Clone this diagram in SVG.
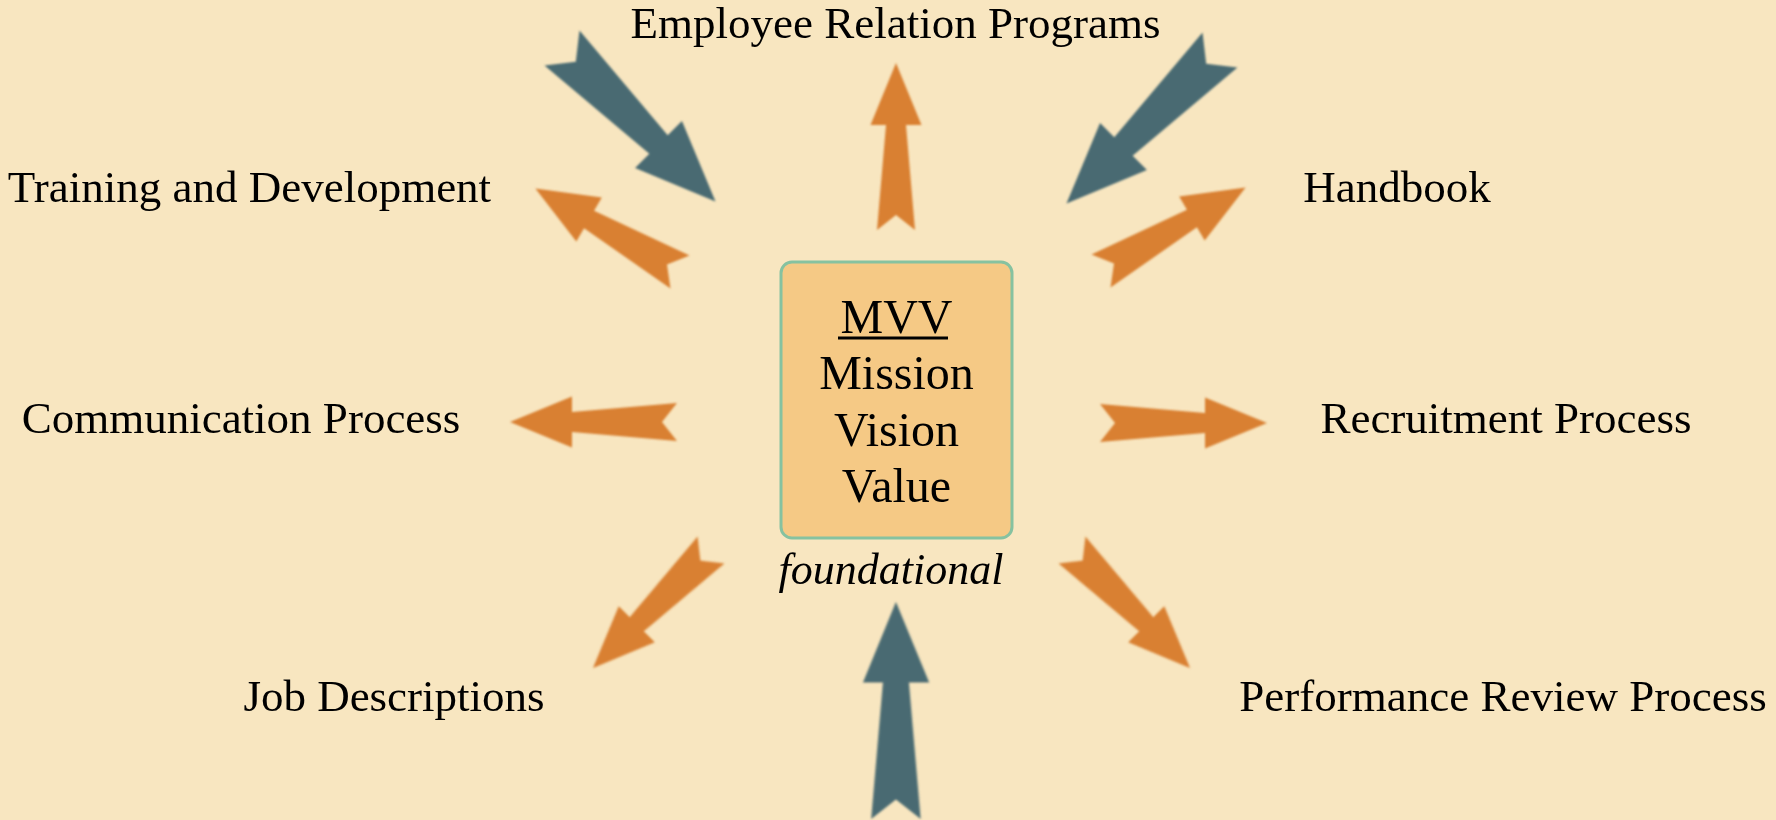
<svg xmlns="http://www.w3.org/2000/svg" xmlns:xlink="http://www.w3.org/1999/xlink" width="1776" height="820" viewBox="0 0 1776 820">
  <style>
    .label { font-family: "Liberation Serif", "Times New Roman", serif; font-size: 45px; fill: #000; text-anchor: middle; }
    .core { font-family: "Liberation Serif", "Times New Roman", serif; font-size: 48px; fill: #000; text-anchor: middle; }
    .note { font-family: "Liberation Serif", "Times New Roman", serif; font-size: 44px; font-style: italic; fill: #000; text-anchor: middle; }
    .out { fill: #D98033; }
    .in { fill: #4A6B72; }
  </style>
  <defs>
    <!-- notched block arrow, tail at origin, pointing along +x -->
    <path id="arrow" d="M0,-19 L105,-10 L105,-25.5 L167,0 L105,25.5 L105,10 L0,19 L15,0 Z"/>
    <filter id="soft" x="-10%" y="-10%" width="120%" height="120%">
      <feGaussianBlur stdDeviation="1"/>
    </filter>
  </defs>

  <rect width="1776" height="820" fill="#F8E6C0"/>

  <!-- connectors -->
  <g id="connectors" filter="url(#soft)">
    <use xlink:href="#arrow" class="in" transform="translate(562,48) rotate(45) scale(1.3)"/>
    <use xlink:href="#arrow" class="in" transform="translate(1220,50) rotate(135) scale(1.3)"/>
    <use xlink:href="#arrow" class="in" transform="translate(896,819) rotate(-90) scale(1.3)"/>
    <use xlink:href="#arrow" class="out" transform="translate(896,230) rotate(-90)"/>
    <use xlink:href="#arrow" class="out" transform="translate(680,272) rotate(210)"/>
    <use xlink:href="#arrow" class="out" transform="translate(1101,271) rotate(-30)"/>
    <use xlink:href="#arrow" class="out" transform="translate(677,422) rotate(180)"/>
    <use xlink:href="#arrow" class="out" transform="translate(1100,423)"/>
    <use xlink:href="#arrow" class="out" transform="translate(711,550) rotate(135)"/>
    <use xlink:href="#arrow" class="out" transform="translate(1072,550) rotate(45)"/>
  </g>

  <!-- central node -->
  <g id="mvv">
    <rect x="781" y="262" width="231" height="276" rx="11" fill="#F5C985" stroke="#86C2A0" stroke-width="3"/>
    <text class="core" x="896.5" y="333">MVV</text>
    <rect x="838" y="336.5" width="110" height="3" fill="#000"/>
    <text class="core" x="896.5" y="389">Mission</text>
    <text class="core" x="896.5" y="446">Vision</text>
    <text class="core" x="896.5" y="502">Value</text>
    <text class="note" x="891" y="584">foundational</text>
  </g>

  <g id="employee-relation"><text class="label" x="895.5" y="38">Employee Relation Programs</text></g>
  <g id="training"><text class="label" x="249.5" y="202">Training and Development</text></g>
  <g id="handbook"><text class="label" x="1397" y="202">Handbook</text></g>
  <g id="communication"><text class="label" x="241" y="433">Communication Process</text></g>
  <g id="recruitment"><text class="label" x="1506" y="433">Recruitment Process</text></g>
  <g id="job-descriptions"><text class="label" x="394" y="711">Job Descriptions</text></g>
  <g id="performance-review"><text class="label" x="1503" y="711">Performance Review Process</text></g>
</svg>
